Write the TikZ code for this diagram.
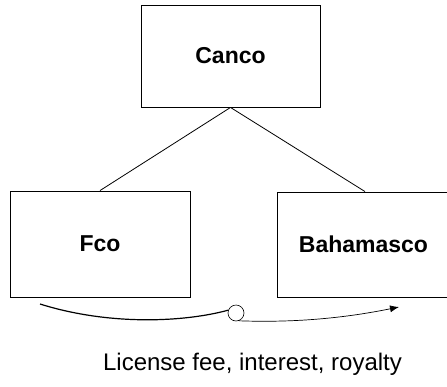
\documentclass[tikz,border=0pt]{standalone}
\usepackage{fontspec}
\setmainfont{Liberation Sans}
\usetikzlibrary{arrows.meta}
\begin{document}
\begin{tikzpicture}[x=1pt,y=1pt,
  entity/.style={draw,line width=0.9pt,inner sep=0pt,font=\bfseries\fontsize{23}{26}\selectfont},
  tie/.style={line width=0.8pt},
  flow/.style={line width=1.2pt},
  flowthin/.style={line width=0.7pt,-{Latex[length=9pt,width=7pt]}}]
  \useasboundingbox (0,0) rectangle (447,-386);
  \fill[white] (0,0) rectangle (447,-386);
  % companies
  \node[entity,minimum width=179pt,minimum height=102pt] (canco) at (230.5,-56) {Canco};
  \node[entity,minimum width=180pt,minimum height=106pt] (fco) at (100,-244) {Fco};
  \node[entity,minimum width=176pt,minimum height=105pt] (baha) at (365,-244.5) {};
  \node[font=\bfseries\fontsize{23}{26}\selectfont] (bahalabel) at (363.5,-244) {Bahamasco};
  % ownership links
  \draw[tie] (canco.south) -- (fco.north);
  \draw[tie] (canco.south) -- (baha.north -| 365,0);
  % payment flow through the intermediary point
  \coordinate (start) at (40,-304);
  \node[draw,circle,line width=0.6pt,minimum size=16pt,inner sep=0pt] (via) at (236,-313) {};
  \coordinate (tip) at (399,-307);
  \draw[flow] (start) .. controls (110,-326) and (185,-322) .. (via.160);
  \draw[flowthin] (via.-70) .. controls (300,-323) and (350,-317) .. (tip);
  % caption
  \node[font=\fontsize{24}{28}\selectfont,anchor=base] (cap) at (252.5,-370) {License fee, interest, royalty};
\end{tikzpicture}
\end{document}
